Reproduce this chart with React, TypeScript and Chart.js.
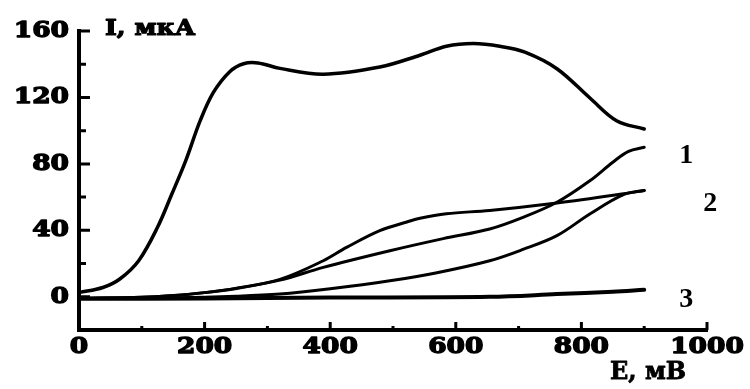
import React, { useEffect, useRef } from "react";
import { Chart, registerables } from "chart.js";

Chart.register(...registerables);

// Top curve
const topE = [0, 38, 65, 95, 125, 148, 170, 193, 214, 240, 262, 285, 320, 389, 479, 543, 585, 628, 670, 710, 761, 814, 856, 900];
const topI = [2.5, 5.6, 10.7, 21.7, 41.8, 62, 82, 106, 123, 135.5, 140.3, 140.8, 137.5, 134, 138.3, 145.4, 150.8, 152.4, 150.8, 147.3, 137.3, 119.5, 106, 101];

// Curve 1
const c1E = [0, 100, 145, 200, 251, 320, 389, 495, 580, 654, 707, 761, 814, 850, 875, 900];
const c1I = [-1, -0.3, 0.6, 2.5, 5, 10, 17.7, 27.7, 35, 40.8, 47.8, 56.9, 70, 81, 87.5, 90];

// Curve 2 (upper branch)
const c2uE = [0, 100, 145, 200, 251, 320, 389, 426, 479, 522, 543, 585, 654, 761, 867, 900];
const c2uI = [-1, -0.3, 0.6, 2.5, 5.2, 10.5, 21.7, 29.7, 39.8, 45, 47.3, 50, 52, 56.5, 62, 64];

// Curve 2 (lower branch)
const c2lE = [0, 150, 250, 320, 400, 495, 570, 654, 707, 761, 814, 867, 900];
const c2lI = [-1, -0.6, 0.3, 1.6, 4.8, 9.6, 14.5, 21.7, 28.5, 36.8, 50, 61.5, 64];

// Curve 3
const c3E = [0, 200, 400, 654, 761, 850, 900];
const c3I = [-1.2, -1, -0.5, 0, 1.6, 3, 4.2];

const xMajor = [0, 200, 400, 600, 800, 1000];
const xMinor = [100, 300, 500, 700, 900];
const yMajor = [0, 40, 80, 120, 160];
const yMinor = [20, 60, 100, 140];

const curveLabels = ["1", "2", "3"];
const curveLabelAt = [
  [967, 85],
  [1005, 56],
  [967, -1.8],
];

const yTitle = "I, мкА";
const xTitle = "E, мВ";

const pts = (xs: number[], ys: number[]) => xs.map((x, i) => ({ x, y: ys[i] }));

function txt(
  ctx: CanvasRenderingContext2D,
  s: string,
  x: number,
  y: number,
  font: string,
  align: CanvasTextAlign,
  sx: number,
  bold: number
) {
  ctx.save();
  ctx.font = font;
  ctx.translate(x, y);
  ctx.scale(sx, 1);
  ctx.textAlign = align;
  ctx.textBaseline = "middle";
  ctx.fillStyle = "#000";
  ctx.fillText(s, 0, 0);
  if (bold > 0) {
    ctx.strokeStyle = "#000";
    ctx.lineWidth = bold;
    ctx.lineJoin = "round";
    ctx.strokeText(s, 0, 0);
  }
  ctx.restore();
}

const axesPlugin = {
  id: "customAxes",
  afterDatasetsDraw(chart: any) {
    const ctx: CanvasRenderingContext2D = chart.ctx;
    const xs = chart.scales.x;
    const ys = chart.scales.y;
    const x0 = xs.getPixelForValue(0);
    const x1 = xs.getPixelForValue(1000);
    const yb = ys.getPixelForValue(-20);
    const yt = ys.getPixelForValue(160);
    ctx.save();
    ctx.strokeStyle = "#000";
    ctx.lineCap = "butt";
    ctx.lineWidth = 4;
    ctx.beginPath();
    ctx.moveTo(x0, yt - 2);
    ctx.lineTo(x0, yb + 2);
    ctx.moveTo(x0 - 2, yb);
    ctx.lineTo(x1 + 1, yb);
    ctx.stroke();
    // y ticks (inward)
    ctx.lineWidth = 3;
    ctx.beginPath();
    yMajor.forEach((v) => {
      const p = ys.getPixelForValue(v);
      ctx.moveTo(x0, p);
      ctx.lineTo(x0 + 11, p);
    });
    yMinor.forEach((v) => {
      const p = ys.getPixelForValue(v);
      ctx.moveTo(x0, p);
      ctx.lineTo(x0 + 7, p);
    });
    // x ticks (inward)
    xMajor.forEach((v) => {
      const p = xs.getPixelForValue(v);
      ctx.moveTo(p, yb);
      ctx.lineTo(p, yb - 8);
    });
    xMinor.forEach((v) => {
      const p = xs.getPixelForValue(v);
      ctx.moveTo(p, yb);
      ctx.lineTo(p, yb - 4);
    });
    ctx.stroke();
    ctx.restore();

    const tickFont = "bold 23px 'DejaVu Serif'";
    yMajor.forEach((v) => {
      txt(ctx, String(v), x0 - 10, ys.getPixelForValue(v), tickFont, "right", 1.15, 1.4);
    });
    xMajor.forEach((v) => {
      txt(ctx, String(v), xs.getPixelForValue(v), yb + 17, tickFont, "center", 1.15, 1.4);
    });
    txt(ctx, yTitle, x0 + 26, yt - 2, "bold 22px 'DejaVu Serif'", "left", 1.15, 1.2);
    txt(ctx, xTitle, x1 - 97, yb + 43, "bold 24px 'DejaVu Serif'", "left", 1.0, 0.8);
    curveLabels.forEach((l, i) => {
      const [ex, iy] = curveLabelAt[i];
      txt(ctx, l, xs.getPixelForValue(ex), ys.getPixelForValue(iy), "bold 28px 'Liberation Serif'", "center", 1, 0);
    });
  },
};

export default function App() {
  const ref = useRef<HTMLCanvasElement | null>(null);
  useEffect(() => {
    if (!ref.current) return;
    const mk = (xs: number[], ys: number[], w: number) => ({
      data: pts(xs, ys),
      borderColor: "#000",
      backgroundColor: "#000",
      borderWidth: w,
      pointRadius: 0,
      fill: false,
      tension: 0.35,
      borderCapStyle: "round" as const,
      borderJoinStyle: "round" as const,
    });
    const chart = new Chart(ref.current, {
      type: "line",
      data: {
        datasets: [
          mk(topE, topI, 3.5),
          mk(c1E, c1I, 3),
          mk(c2uE, c2uI, 3),
          mk(c2lE, c2lI, 3),
          mk(c3E, c3I, 4),
        ],
      },
      options: {
        responsive: false,
        animation: false,
        layout: { padding: { left: 79, right: 43, top: 31, bottom: 59 } },
        plugins: { legend: { display: false }, tooltip: { enabled: false } },
        scales: {
          x: { type: "linear", min: 0, max: 1000, display: false },
          y: { type: "linear", min: -20, max: 160, display: false },
        },
      },
      plugins: [axesPlugin],
    });
    return () => chart.destroy();
  }, []);
  return (
    <div style={{ position: "absolute", left: 0, top: 0, width: 750, height: 389, background: "#fff" }}>
      <canvas ref={ref} width={750} height={389} />
    </div>
  );
}
